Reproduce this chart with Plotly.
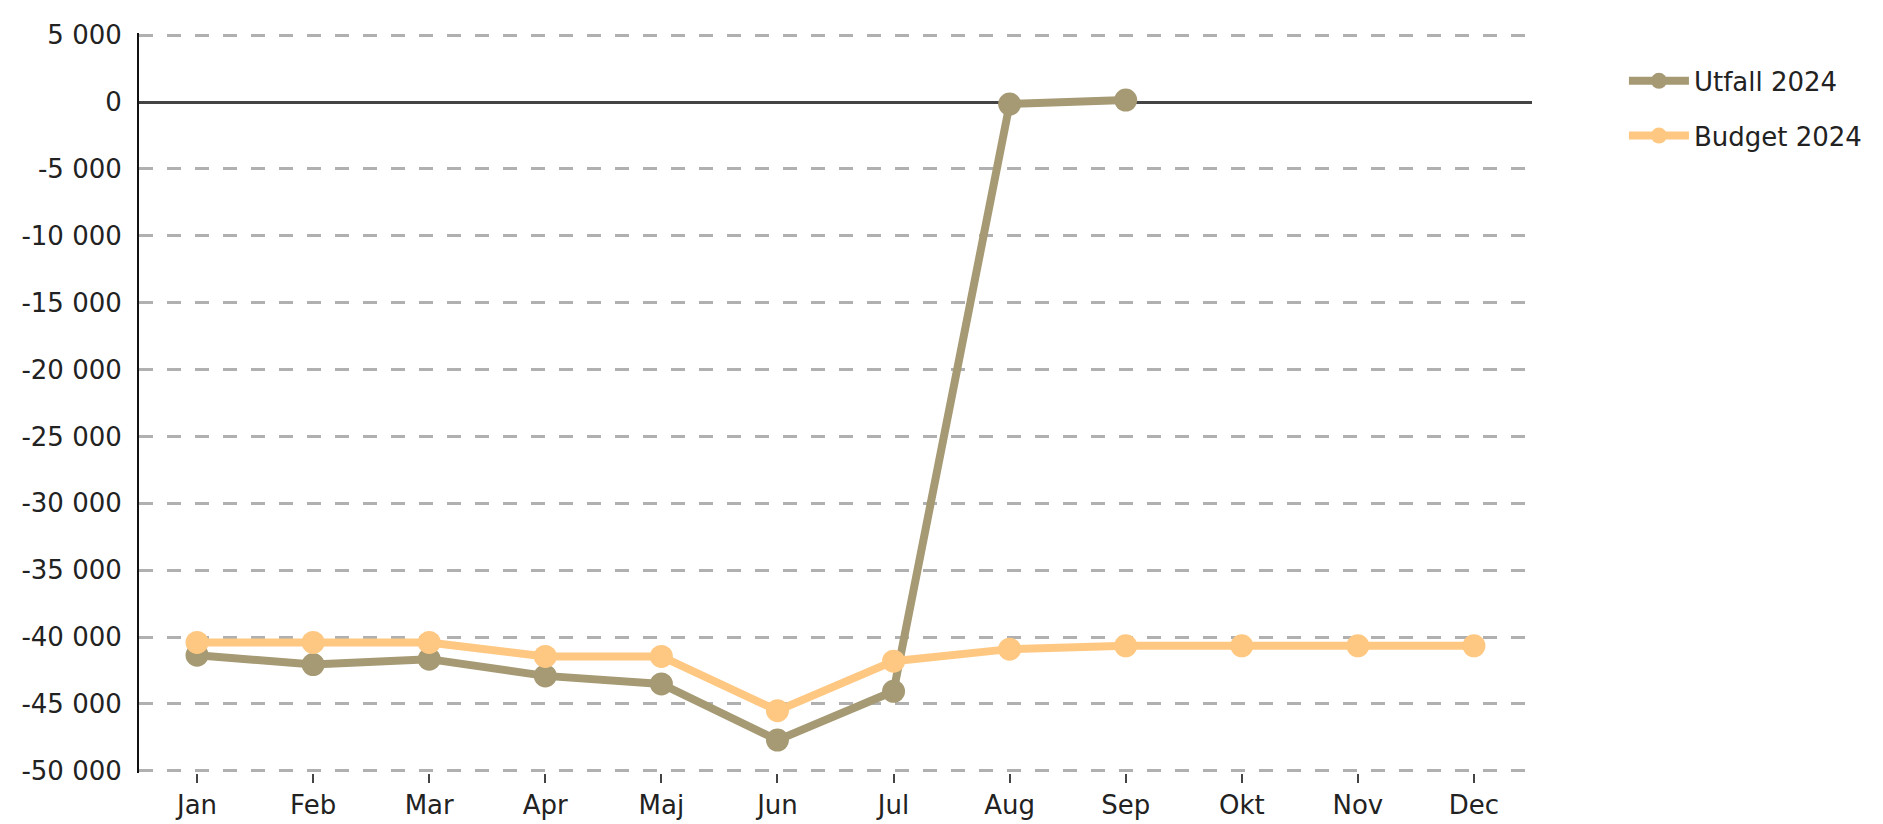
import plotly.graph_objects as go

months = ["Jan", "Feb", "Mar", "Apr", "Maj", "Jun", "Jul", "Aug", "Sep", "Okt", "Nov", "Dec"]
utfall_2024 = [-41350, -42050, -41650, -42900, -43500, -47700, -44050, -150, 150, None, None, None]
budget_2024 = [-40400, -40400, -40400, -41450, -41450, -45500, -41800, -40900, -40650, -40650, -40650, -40650]

y_tick_vals = [5000, 0, -5000, -10000, -15000, -20000, -25000, -30000, -35000, -40000, -45000, -50000]
y_tick_text = ["5 000", "0", "-5 000", "-10 000", "-15 000", "-20 000", "-25 000",
               "-30 000", "-35 000", "-40 000", "-45 000", "-50 000"]

FONT = "DejaVu Sans"
TXT = "#222222"
FS = 26

fig = go.Figure()
fig.add_trace(go.Scatter(
    x=months, y=utfall_2024, name="Utfall 2024", mode="lines+markers",
    line=dict(color="#A69A74", width=8), marker=dict(color="#A69A74", size=23),
    legendgroup="u", connectgaps=False,
))
fig.add_trace(go.Scatter(
    x=months, y=budget_2024, name="Budget 2024", mode="lines+markers",
    line=dict(color="#FFC882", width=8), marker=dict(color="#FFC882", size=23),
    legendgroup="b",
))

fig.update_layout(
    width=1883, height=824,
    margin=dict(l=131, r=359, t=25, b=49),
    plot_bgcolor="white", paper_bgcolor="white",
    font=dict(family=FONT, size=FS, color=TXT),
    legend=dict(x=1.066, y=0.967, xanchor="left", yanchor="top",
                font=dict(family=FONT, size=FS, color=TXT),
                traceorder="grouped", tracegroupgap=18, itemwidth=60,
                bgcolor="rgba(0,0,0,0)"),
    showlegend=True,
)
fig.update_xaxes(
    type="category", categoryorder="array", categoryarray=months,
    range=[-0.5, 11.5], showgrid=False, showline=False, zeroline=False,
    ticks="outside", ticklen=9, tickwidth=2, tickcolor="#444444",
    tickfont=dict(family=FONT, size=FS, color=TXT),
)
fig.update_yaxes(
    range=[-50160, 5160], tickvals=y_tick_vals, ticktext=y_tick_text,
    showgrid=True, gridcolor="#B0B0B0", gridwidth=3, griddash="14px,14px",
    zeroline=True, zerolinecolor="#444444", zerolinewidth=2.5,
    showline=True, linecolor="#111111", linewidth=2,
    ticks="", ticklabelstandoff=10,
    tickfont=dict(family=FONT, size=FS, color=TXT),
)

fig.write_html("out.html")
